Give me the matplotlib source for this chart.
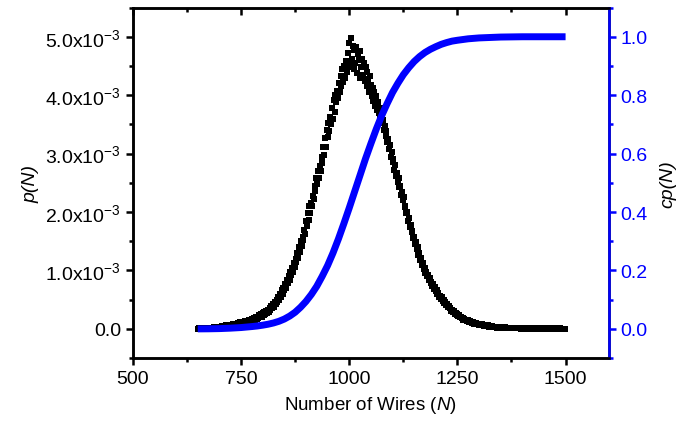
import numpy as np
import matplotlib
matplotlib.use("Agg")
import matplotlib.pyplot as plt
from matplotlib.ticker import MultipleLocator, FixedLocator, FormatStrFormatter

plt.rcParams['font.family'] = 'Liberation Sans'
plt.rcParams['mathtext.fontset'] = 'custom'
plt.rcParams['mathtext.rm'] = 'Liberation Sans'
plt.rcParams['mathtext.it'] = 'Liberation Sans:italic'

# number of wires, sampled every 2
N = np.arange(650, 1500, 2)

# p(N) in units of 1e-3
p_milli = [
    0.00, 0.01, 0.00, 0.00, 0.01, 0.00, 0.01, 0.00, 0.02, 0.01,
    0.01, 0.00, 0.02, 0.01, 0.01, 0.02, 0.00, 0.02, 0.01, 0.03,
    0.02, 0.03, 0.01, 0.03, 0.02, 0.04, 0.03, 0.02, 0.05, 0.04,
    0.03, 0.05, 0.04, 0.06, 0.03, 0.05, 0.06, 0.04, 0.07, 0.05,
    0.06, 0.08, 0.05, 0.07, 0.09, 0.06, 0.10, 0.08, 0.07, 0.11,
    0.09, 0.12, 0.10, 0.08, 0.13, 0.11, 0.14, 0.10, 0.13, 0.15,
    0.13, 0.16, 0.12, 0.17, 0.15, 0.19, 0.14, 0.20, 0.17, 0.21,
    0.18, 0.23, 0.20, 0.25, 0.21, 0.27, 0.23, 0.29, 0.25, 0.31,
    0.27, 0.33, 0.29, 0.36, 0.32, 0.39, 0.35, 0.43, 0.38, 0.46,
    0.43, 0.50, 0.46, 0.55, 0.50, 0.60, 0.54, 0.66, 0.60, 0.70,
    0.66, 0.76, 0.70, 0.83, 0.78, 0.90, 0.84, 0.98, 0.92, 1.05,
    0.98, 1.12, 1.06, 1.20, 1.14, 1.30, 1.22, 1.40, 1.32, 1.50,
    1.42, 1.58, 1.52, 1.70, 1.62, 1.84, 1.76, 1.98, 1.86, 2.10,
    1.98, 2.16, 2.10, 2.28, 2.22, 2.45, 2.36, 2.58, 2.48, 2.70,
    2.58, 2.78, 2.70, 2.95, 2.84, 3.12, 2.98, 3.26, 3.12, 3.40,
    3.28, 3.52, 3.38, 3.62, 3.50, 3.78, 3.60, 3.92, 3.72, 4.00,
    3.88, 4.08, 3.96, 4.20, 4.05, 4.32, 4.15, 4.45, 4.22, 4.50,
    4.30, 4.58, 4.40, 4.72, 4.48, 4.90, 4.55, 4.98, 4.62, 4.85,
    4.45, 4.78, 4.55, 4.82, 4.38, 4.70, 4.60, 4.30, 4.75, 4.48,
    4.62, 4.35, 4.55, 4.25, 4.48, 4.15, 4.40, 4.28, 4.05, 4.32,
    4.18, 3.98, 4.12, 3.90, 4.05, 3.82, 3.98, 3.75, 3.88, 3.70,
    3.78, 3.62, 3.70, 3.52, 3.58, 3.40, 3.48, 3.30, 3.38, 3.20,
    3.25, 3.08, 3.15, 2.95, 3.02, 2.85, 2.90, 2.72, 2.80, 2.62,
    2.66, 2.52, 2.58, 2.42, 2.45, 2.30, 2.35, 2.20, 2.25, 2.08,
    2.10, 1.98, 2.00, 1.85, 1.90, 1.75, 1.78, 1.65, 1.68, 1.55,
    1.58, 1.45, 1.48, 1.36, 1.40, 1.26, 1.30, 1.18, 1.22, 1.10,
    1.12, 1.02, 1.05, 0.96, 0.98, 0.90, 0.92, 0.84, 0.87, 0.78,
    0.80, 0.74, 0.76, 0.68, 0.71, 0.64, 0.66, 0.60, 0.62, 0.55,
    0.57, 0.52, 0.54, 0.48, 0.49, 0.44, 0.46, 0.41, 0.42, 0.37,
    0.39, 0.35, 0.36, 0.31, 0.33, 0.29, 0.30, 0.26, 0.27, 0.24,
    0.25, 0.22, 0.23, 0.20, 0.21, 0.18, 0.19, 0.16, 0.17, 0.15,
    0.16, 0.14, 0.15, 0.12, 0.13, 0.11, 0.12, 0.10, 0.11, 0.09,
    0.10, 0.09, 0.10, 0.08, 0.09, 0.07, 0.08, 0.07, 0.08, 0.06,
    0.07, 0.05, 0.06, 0.06, 0.05, 0.06, 0.04, 0.05, 0.05, 0.04,
    0.05, 0.03, 0.04, 0.04, 0.03, 0.04, 0.02, 0.03, 0.03, 0.02,
    0.03, 0.02, 0.03, 0.02, 0.02, 0.03, 0.01, 0.02, 0.02, 0.01,
    0.02, 0.01, 0.02, 0.01, 0.02, 0.01, 0.01, 0.02, 0.01, 0.01,
    0.01, 0.02, 0.01, 0.00, 0.01, 0.01, 0.00, 0.01, 0.01, 0.00,
    0.01, 0.00, 0.01, 0.01, 0.00, 0.01, 0.00, 0.01, 0.00, 0.01,
    0.00, 0.01, 0.00, 0.00, 0.01, 0.00, 0.01, 0.00, 0.00, 0.01,
    0.00, 0.00, 0.01, 0.00, 0.00, 0.01, 0.00, 0.00, 0.00, 0.01,
    0.00, 0.00, 0.00, 0.01, 0.00, 0.00, 0.00, 0.00, 0.01, 0.00,
    0.00, 0.00, 0.00, 0.00, 0.00,
]

# cumulative probability cp(N)
N_cp = [650, 675, 700, 725, 750, 775, 787.5, 800, 812.5, 825, 837.5, 850,
        862.5, 875, 887.5, 900, 912.5, 925, 937.5, 950, 962.5, 975, 987.5,
        1000, 1012.5, 1025, 1037.5, 1050, 1062.5, 1075, 1087.5, 1100,
        1112.5, 1125, 1137.5, 1150, 1162.5, 1175, 1187.5, 1200, 1212.5,
        1225, 1237.5, 1250, 1275, 1300, 1350, 1400, 1450, 1500]
cp = [0.0, 0.0003, 0.001, 0.0025, 0.0046, 0.008, 0.010, 0.0127, 0.016,
      0.0203, 0.026, 0.0337, 0.044, 0.057, 0.074, 0.094, 0.118, 0.146,
      0.180, 0.217, 0.260, 0.308, 0.360, 0.414, 0.470, 0.526, 0.582,
      0.634, 0.684, 0.730, 0.771, 0.809, 0.841, 0.870, 0.894, 0.915,
      0.932, 0.946, 0.957, 0.966, 0.974, 0.980, 0.985, 0.988, 0.993,
      0.996, 0.999, 1.0, 1.0, 1.0]

yticks_left = [0, 1, 2, 3, 4, 5]
ytick_labels = ['0.0'] + ['%.1fx10$^{-3}$' % v for v in yticks_left[1:]]

fig = plt.figure(figsize=(6.78, 4.27), dpi=100)
ax = fig.add_axes([0.196, 0.159, 0.702, 0.821])
ax2 = ax.twinx()

ax.plot(N, p_milli, 's', color='black', markersize=3.8, markeredgewidth=0, zorder=3)
ax2.plot(N_cp, cp, '-', color='#0000ff', linewidth=5, solid_capstyle='butt')

ax.set_xlim(500, 1600)
ax.set_ylim(-0.5, 5.5)
ax2.set_ylim(-0.1, 1.1)

ax.xaxis.set_major_locator(FixedLocator([500, 750, 1000, 1250, 1500]))
ax.xaxis.set_minor_locator(MultipleLocator(125))
ax.yaxis.set_major_locator(FixedLocator(yticks_left))
ax.yaxis.set_minor_locator(MultipleLocator(0.5))
ax.set_yticklabels(ytick_labels)
ax2.yaxis.set_major_locator(MultipleLocator(0.2))
ax2.yaxis.set_minor_locator(MultipleLocator(0.1))
ax2.yaxis.set_major_formatter(FormatStrFormatter('%.1f'))

ax.tick_params(axis='both', which='major', direction='out', length=5, width=1.8,
               labelsize=14, top=True)
ax.tick_params(axis='both', which='minor', direction='out', length=3, width=1.8, top=True)
ax.xaxis.set_tick_params(which='both', labeltop=False)
for t in ax.xaxis.get_major_ticks() + ax.xaxis.get_minor_ticks():
    t.tick2line.set_marker(3)
ax2.tick_params(axis='y', which='major', direction='out', length=5, width=1.8,
                labelsize=14, colors='#0000ff')
ax2.tick_params(axis='y', which='minor', direction='out', length=3, width=1.8,
                colors='#0000ff')

for s in ax.spines.values():
    s.set_linewidth(1.8)
for s in ax2.spines.values():
    s.set_linewidth(1.8)
ax2.spines['right'].set_color('#0000ff')

ax.set_xlabel('Number of Wires ($\\it{N}$)', fontsize=13.5, labelpad=5)
ax.set_ylabel('p(N)', fontsize=14, style='italic', labelpad=4)
ax2.set_ylabel('cp(N)', fontsize=14, style='italic', rotation=90, labelpad=8)

fig.savefig('out.png', dpi=100)
